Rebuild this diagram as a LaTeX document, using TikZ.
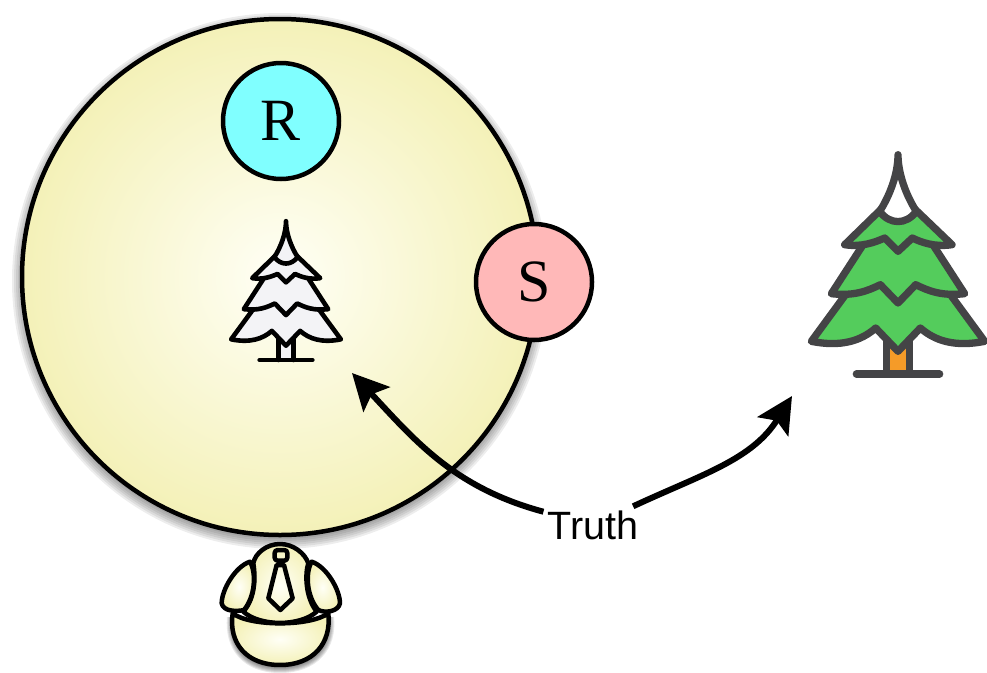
\documentclass[tikz,border=0pt]{standalone}
\usepackage{fontspec}
\setmainfont{Liberation Serif}
\newfontfamily\truthfont{Liberation Sans}
\usepackage{xcolor}
\usepackage{tikz}
\usetikzlibrary{arrows.meta, positioning}
\definecolor{mycyan}{RGB}{128,255,255}
\definecolor{mypink}{RGB}{255,184,184}
\definecolor{myyellow}{RGB}{244,241,184}
\definecolor{mycream}{RGB}{255,255,246}
\definecolor{mygreen}{RGB}{84,204,92}
\definecolor{myorange}{RGB}{245,155,40}
\definecolor{mysnow}{RGB}{243,243,246}
\definecolor{mygrayline}{RGB}{68,68,70}
\tikzset{
  mindball/.style={circle, draw=black, inner color=mycream, outer color=myyellow,
    minimum size=516pt, inner sep=0pt, line width=4.5pt},
  agentball/.style={circle, draw=black, minimum size=116pt, inner sep=0pt,
    line width=4.5pt, font=\fontsize{60}{60}\selectfont},
  truthlabel/.style={font=\truthfont\fontsize{39.5}{40}\selectfont, inner sep=4pt},
  trutharrow/.style={-{Stealth[length=36pt,width=36pt,inset=7pt]}, line width=6pt, color=black},
  personpart/.style={draw=black, line width=4.5pt, line join=round,
    inner color=mycream, outer color=myyellow}
}
% x, y, scale, line, leaves, top, trunk
\newcommand{\firtree}[7]{
  \begin{scope}[shift={(#1,#2)}, x=#3*0.3333pt, y=-#3*0.3333pt, draw=#4,
      line width=#3*7.3pt, line join=round, line cap=round]
    \path[fill=#7] (-35,-100) rectangle (35,0);
    \draw (-35,-100) -- (-35,0);
    \draw (35,-100) -- (35,0);
    \draw (-125,0) -- (125,0);
    \path[fill=#5, draw] (-145,-255) -- (-260,-98) .. controls (-170,-80) and (-110,-100) .. (-67,-138)
      -- (0,-68) -- (67,-138) .. controls (110,-100) and (170,-80) .. (260,-98) -- (145,-255);
    \path[fill=#5, draw] (-95,-403) -- (-200,-241) .. controls (-130,-233) and (-90,-250) .. (-53,-268)
      -- (0,-213) -- (53,-268) .. controls (90,-250) and (130,-233) .. (200,-241) -- (95,-403);
    \path[fill=#5, draw] (-45,-500) -- (-160,-388) .. controls (-110,-380) and (-70,-395) .. (-40,-408)
      -- (0,-368) -- (43,-408) .. controls (70,-395) and (110,-380) .. (162,-388) -- (45,-500);
    \path[fill=#6, draw] (0,-658) .. controls (0,-600) and (-25,-535) .. (-55,-488)
      .. controls (-25,-447) and (25,-447) .. (55,-488)
      .. controls (25,-535) and (0,-600) .. (0,-658) -- cycle;
  \end{scope}
}
\begin{document}
\begin{tikzpicture}[x=1pt, y=-1pt]
  \useasboundingbox (0,0) rectangle (987,672);

  % Shadow under the big circle
  \foreach \rad in {258,260,262,264,266,268}
    \fill[black, opacity=0.07] (280,281) circle (\rad);

  % Big circle and its two agents
  \node[mindball] (mind) at (280,277) {};
  \node[agentball, fill=mycyan] (R) at (281,121) {R};
  \node[agentball, fill=mypink] (S) at (534,282) {S};

  % Trees
  \firtree{286}{360}{0.633}{black}{mysnow}{mysnow}{mysnow}
  \firtree{898}{374}{1}{mygrayline}{mygreen}{white}{myorange}

  % Person, shadow first
  \begin{scope}[shift={(200,530)}, x=0.3333pt, y=-0.3333pt]
    \foreach \wid in {4,10,16,22,28,34}
      \draw[black, opacity=0.09, line width=\wid*0.3333pt, line join=round]
        (98,262) .. controls (90,350) and (140,412) .. (240,412)
        .. controls (340,412) and (395,350) .. (385,262);
    \path[personpart] (98,250) .. controls (85,340) and (140,405) .. (240,405)
      .. controls (340,405) and (395,340) .. (385,250)
      .. controls (330,290) and (150,290) .. (98,250) -- cycle;
    \path[personpart] (130,245) .. controls (170,200) and (165,130) .. (160,100)
      .. controls (165,70) and (200,42) .. (240,42)
      .. controls (280,42) and (315,70) .. (325,100)
      .. controls (315,130) and (315,200) .. (350,245)
      .. controls (300,290) and (180,290) .. (130,245) -- cycle;
    \path[personpart] (150,95) .. controls (105,110) and (65,180) .. (65,220)
      .. controls (70,245) and (110,245) .. (132,240)
      .. controls (165,200) and (170,130) .. (150,95) -- cycle;
    \path[personpart] (335,95) .. controls (380,110) and (420,180) .. (420,220)
      .. controls (415,245) and (375,250) .. (355,240)
      .. controls (320,200) and (315,130) .. (335,95) -- cycle;
    \draw[line width=4.5pt, rounded corners=3pt, line join=round] (224,60) rectangle (262,92);
    \draw[line width=4.5pt, line join=round] (230,105) -- (205,205) -- (241,240) -- (278,205) -- (252,105) -- cycle;
  \end{scope}

  % Truth label and its arrows
  \node[truthlabel] (truth) at (593,525) {Truth};
  \coordinate (innertree) at (352,373);
  \coordinate (outertree) at (792,396);
  \draw[trutharrow] (truth.165) to[out=165, in=-47] (innertree);
  \draw[trutharrow] (truth.25) to[out=25, in=-122] (outertree);
\end{tikzpicture}
\end{document}
